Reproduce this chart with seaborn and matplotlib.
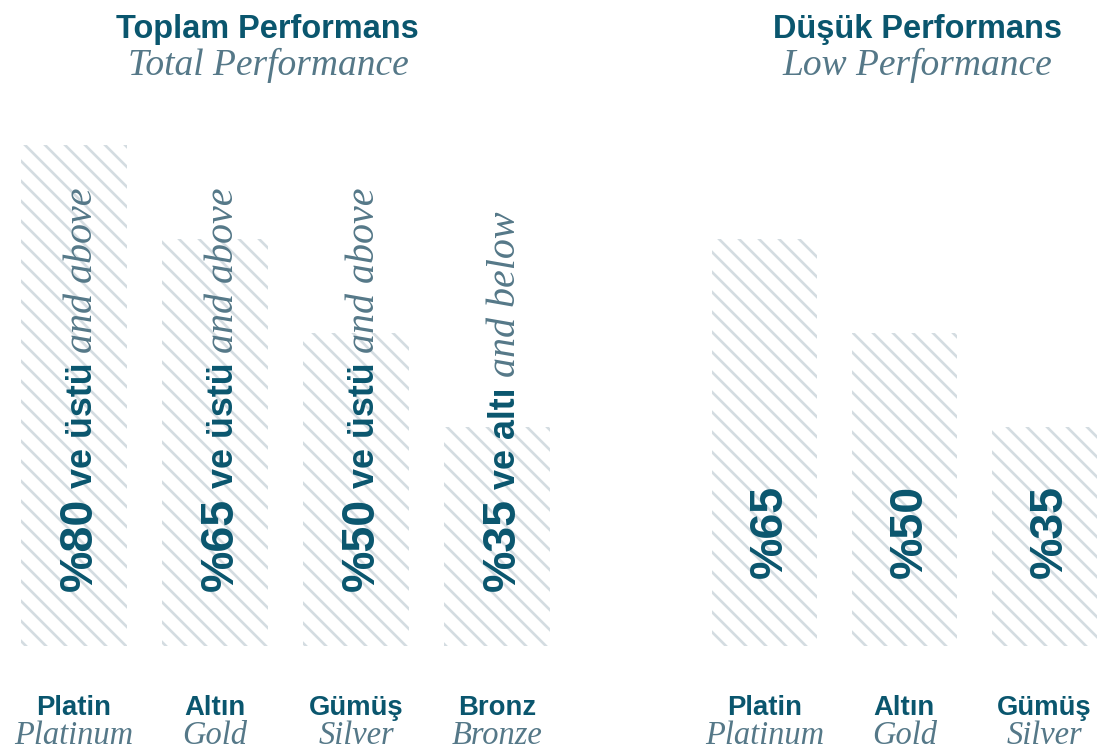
import matplotlib
matplotlib.use("Agg")
import matplotlib.pyplot as plt
import seaborn as sns

# Performance thresholds (Turkish / English)
total_tiers_tr = ["Platin", "Altın", "Gümüş", "Bronz"]
total_tiers_en = ["Platinum", "Gold", "Silver", "Bronze"]
total_values = [80, 65, 50, 35]
total_words_tr = ["ve üstü", "ve üstü", "ve üstü", "ve altı"]
total_words_en = ["and above", "and above", "and above", "and below"]

low_tiers_tr = ["Platin", "Altın", "Gümüş"]
low_tiers_en = ["Platinum", "Gold", "Silver"]
low_values = [65, 50, 35]

dark = "#0a566e"
soft = "#557888"
hatch_col = "#d4dce1"

sns.set_style("white")
plt.rcParams["hatch.linewidth"] = 1.6
sans = ["Liberation Sans", "DejaVu Sans"]
serif = ["Liberation Serif", "DejaVu Serif"]

fig = plt.figure(figsize=(1100.4 / 120, 751.4 / 120), dpi=120)
ax_l = fig.add_axes([3.5 / 1100, 105 / 751, 564 / 1100, 626 / 751])
ax_r = fig.add_axes([694 / 1100, 105 / 751, 406 / 1100, 626 / 751])


def draw_group(ax, tiers_tr, tiers_en, values, words_tr, words_en, xmax, text_y):
    sns.barplot(x=tiers_tr, y=values, ax=ax, color="white", saturation=1,
                width=0.75)
    for p in ax.patches:
        p.set_hatch("\\\\")
        p.set_edgecolor(hatch_col)
        p.set_linewidth(0)
    ax.set_xlim(-0.5, xmax)
    ax.set_ylim(0, 100)
    ax.set_axis_off()

    for i, v in enumerate(values):
        t = ax.text(i + 0.128, text_y, f"%{v}", rotation=90, rotation_mode="anchor",
                    ha="left", va="baseline", fontsize=28, fontweight="bold",
                    family=sans, color=dark)
        if words_tr is not None:
            t2 = ax.annotate(words_tr[i], xy=(i + 0.128, 1.0), xycoords=("data", t),
                             xytext=(0, 9), textcoords="offset pixels",
                             rotation=90, rotation_mode="anchor", ha="left",
                             va="baseline", fontsize=21.5, fontweight="bold",
                             family=sans, color=dark)
            ax.annotate(words_en[i], xy=(i + 0.128, 1.0), xycoords=("data", t2),
                        xytext=(0, 10), textcoords="offset pixels",
                        rotation=90, rotation_mode="anchor", ha="left",
                        va="baseline", fontsize=24, style="italic",
                        family=serif, color=soft)

        ax.annotate(tiers_tr[i], xy=(i, 0), xycoords="data", xytext=(0, -69),
                    textcoords="offset pixels", ha="center", va="baseline",
                    fontsize=16.5, fontweight="bold", family=sans, color=dark,
                    annotation_clip=False)
        ax.annotate(tiers_en[i], xy=(i, 0), xycoords="data", xytext=(0, -98),
                    textcoords="offset pixels", ha="center", va="baseline",
                    fontsize=19.5, style="italic", family=serif, color=soft,
                    annotation_clip=False)


draw_group(ax_l, total_tiers_tr, total_tiers_en, total_values,
           total_words_tr, total_words_en, 3.5, 8.9)
draw_group(ax_r, low_tiers_tr, low_tiers_en, low_values, None, None, 2.4, 10.9)

# Group titles
fig.text(267 / 1100, 1 - 38 / 751, "Toplam Performans", ha="center", va="baseline",
         fontsize=19.5, fontweight="bold", family=sans, color=dark)
fig.text(268 / 1100, 1 - 75 / 751, "Total Performance", ha="center", va="baseline",
         fontsize=22.5, style="italic", family=serif, color=soft)
fig.text(917 / 1100, 1 - 38 / 751, "Düşük Performans", ha="center", va="baseline",
         fontsize=19.5, fontweight="bold", family=sans, color=dark)
fig.text(917 / 1100, 1 - 75 / 751, "Low Performance", ha="center", va="baseline",
         fontsize=22.5, style="italic", family=serif, color=soft)

fig.savefig("out.png", dpi=120)
